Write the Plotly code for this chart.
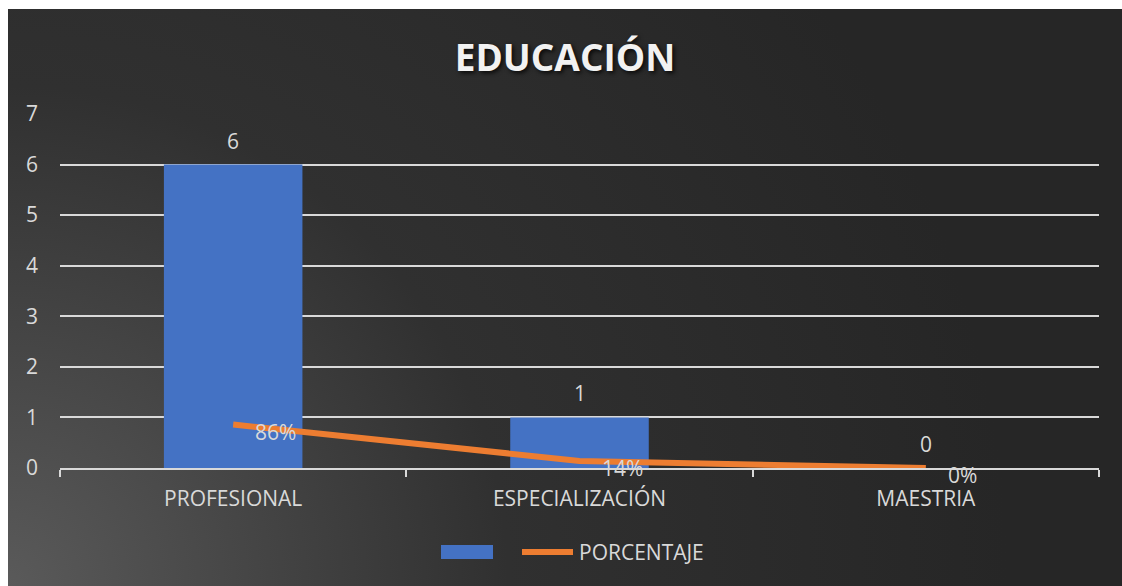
import base64
import plotly.graph_objects as go

# ---- data ----
categories = ["PROFESIONAL", "ESPECIALIZACIÓN", "MAESTRIA"]
counts = [6, 1, 0]
percentages = [0.86, 0.14, 0.0]
pct_labels = ["86%", "14%", "0%"]
y_ticks = [0, 1, 2, 3, 4, 5, 6, 7]
title_text = "EDUCACIÓN"
line_name = "PORCENTAJE"

# ---- layout geometry (pixels) ----
W, H = 1122, 586
L, R, T, B = 60, 23, 114, 118
pw, ph = W - L - R, H - T - B

def px_x(p):
    return (p - L) / pw

def px_y(p):
    return (H - B - p) / ph

TXT = "#d9d9d9"
FONT = "Open Sans"
FS = 21

svg = (
    '<svg xmlns="http://www.w3.org/2000/svg" width="1114" height="577" '
    'viewBox="0 0 1114 577" preserveAspectRatio="none">'
    '<defs><radialGradient id="g" cx="0" cy="577" r="1000" gradientUnits="userSpaceOnUse">'
    '<stop offset="0" stop-color="#5a5a5a"/>'
    '<stop offset="0.5" stop-color="#303030"/>'
    '<stop offset="1" stop-color="#262626"/>'
    '</radialGradient></defs>'
    '<rect x="0" y="0" width="1114" height="577" fill="url(#g)"/></svg>'
)
bg_src = "data:image/svg+xml;base64," + base64.b64encode(svg.encode()).decode()

fig = go.Figure()
fig.add_trace(go.Bar(
    x=categories, y=counts, name="",
    marker=dict(color="#4472C4", line=dict(width=0)),
    width=0.4, showlegend=False, hoverinfo="x+y",
))
fig.add_trace(go.Scatter(
    x=categories, y=percentages, name=line_name, mode="lines",
    line=dict(color="#ED7D31", width=6), showlegend=False, cliponaxis=False,
))

annotations = []
for c, v in zip(categories, counts):
    annotations.append(dict(
        x=c, y=v, xref="x", yref="y", text=str(v), showarrow=False,
        yanchor="middle", yshift=24, font=dict(size=FS, color=TXT, family=FONT),
    ))
for c, v, t in zip(categories, percentages, pct_labels):
    annotations.append(dict(
        x=c, y=v, xref="x", yref="y", text=t, showarrow=False,
        xanchor="left", xshift=20, yanchor="middle", yshift=-7,
        font=dict(size=FS, color=TXT, family=FONT),
    ))
# legend text
annotations.append(dict(
    x=px_x(577), y=px_y(552), xref="paper", yref="paper", text=line_name,
    showarrow=False, xanchor="left", yanchor="middle",
    font=dict(size=FS, color=TXT, family=FONT),
))

shapes = [
    dict(type="rect", xref="paper", yref="paper",
         x0=px_x(441), x1=px_x(493), y0=px_y(559), y1=px_y(545),
         fillcolor="#4472C4", line=dict(width=0)),
    dict(type="line", xref="paper", yref="paper",
         x0=px_x(522), x1=px_x(573), y0=px_y(552), y1=px_y(552),
         line=dict(color="#ED7D31", width=6)),
]

fig.update_layout(
    width=W, height=H,
    margin=dict(l=L, r=R, t=T, b=B, pad=0),
    paper_bgcolor="white",
    plot_bgcolor="rgba(0,0,0,0)",
    title=dict(
        text=f"<b>{title_text}</b>", x=565 / W, xref="container", xanchor="center",
        y=1 - 58 / H, yref="container", yanchor="middle",
        font=dict(size=37, color="#f2f2f2", family=FONT, shadow="2px 2px 4px rgba(0,0,0,0.8)"),
    ),
    images=[dict(
        source=bg_src, xref="paper", yref="paper",
        x=px_x(8), y=px_y(9), sizex=(W - 8) / pw, sizey=(H - 9) / ph,
        xanchor="left", yanchor="top", sizing="stretch", layer="below",
    )],
    showlegend=False,
    bargap=0.6,
    xaxis=dict(
        showline=True, linecolor=TXT, linewidth=2,
        ticks="outside", tickson="boundaries", ticklen=7, tickwidth=2, tickcolor=TXT,
        tickfont=dict(size=FS, color=TXT, family=FONT), ticklabelstandoff=11,
        showgrid=False, zeroline=False, fixedrange=True,
    ),
    yaxis=dict(
        range=[0, 7], tickvals=y_ticks, showline=False, zeroline=False,
        showgrid=True, gridcolor=TXT, gridwidth=2,
        tickfont=dict(size=FS, color=TXT, family=FONT), ticklabelstandoff=21,
        fixedrange=True,
    ),
    annotations=annotations,
    shapes=shapes,
)

fig.write_html("out.html")
